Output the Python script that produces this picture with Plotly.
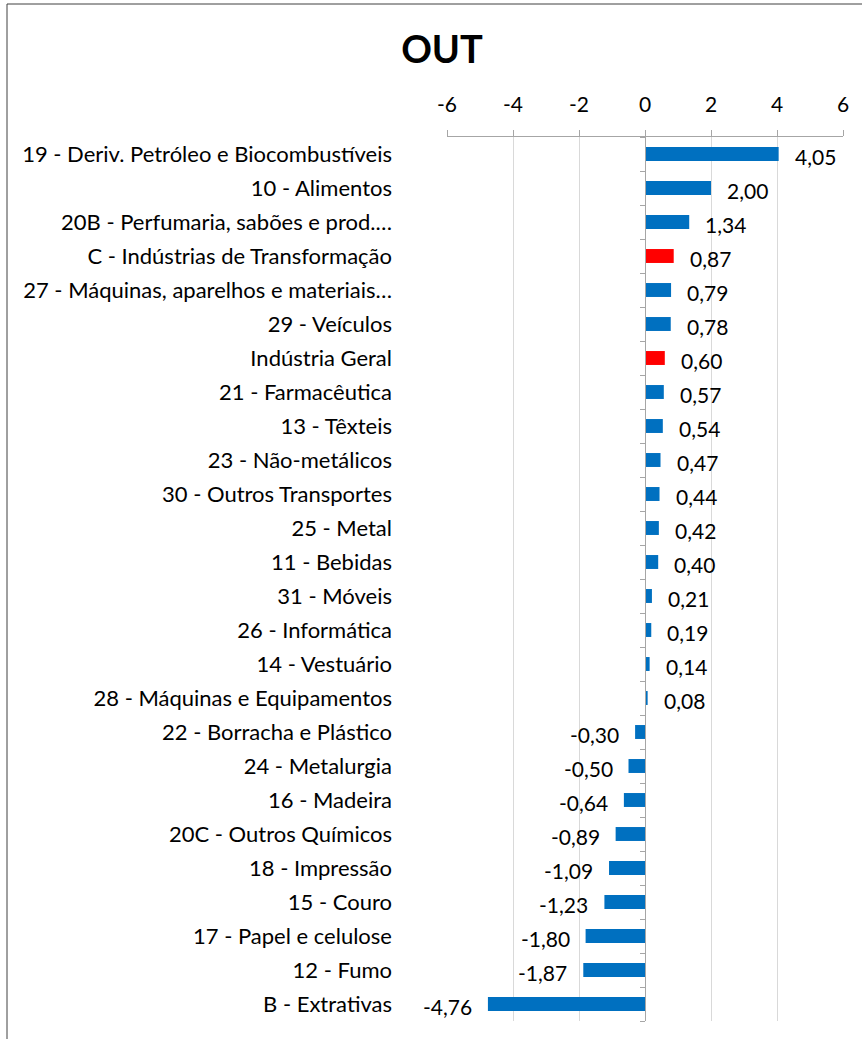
import plotly.graph_objects as go

categories = [
    "19 - Deriv. Petróleo e Biocombustíveis",
    "10 - Alimentos",
    "20B - Perfumaria, sabões e prod.…",
    "C - Indústrias de Transformação",
    "27 - Máquinas, aparelhos e materiais…",
    "29 - Veículos",
    "Indústria Geral",
    "21 - Farmacêutica",
    "13 - Têxteis",
    "23 - Não-metálicos",
    "30 - Outros Transportes",
    "25 - Metal",
    "11 - Bebidas",
    "31 - Móveis",
    "26 - Informática",
    "14 - Vestuário",
    "28 - Máquinas e Equipamentos",
    "22 - Borracha e Plástico",
    "24 - Metalurgia",
    "16 - Madeira",
    "20C - Outros Químicos",
    "18 - Impressão",
    "15 - Couro",
    "17 - Papel e celulose",
    "12 - Fumo",
    "B - Extrativas",
]
values = [4.05, 2.00, 1.34, 0.87, 0.79, 0.78, 0.60, 0.57, 0.54, 0.47, 0.44, 0.42,
          0.40, 0.21, 0.19, 0.14, 0.08, -0.30, -0.50, -0.64, -0.89, -1.09, -1.23,
          -1.80, -1.87, -4.76]
highlight = ["C - Indústrias de Transformação", "Indústria Geral"]
x_ticks = [-6, -4, -2, 0, 2, 4, 6]

BLUE = "#0070C0"
RED = "#FF0000"
FONT = "Lato"

colors = [RED if c in highlight else BLUE for c in categories]
n = len(categories)

fig = go.Figure()
fig.add_trace(go.Bar(
    x=values, y=categories, orientation="h",
    marker=dict(color=colors, line=dict(width=0)),
    hoverinfo="x+y",
))
# helper invisible trace for the category boundary axis at x=0
fig.add_trace(go.Scatter(x=[0], y=[0], yaxis="y2", mode="markers",
                         marker=dict(opacity=0), hoverinfo="skip", showlegend=False))

def fmt(v):
    return f"{v:.2f}".replace(".", ",")

for c, v in zip(categories, values):
    fig.add_annotation(
        x=v, y=c, text=fmt(v), showarrow=False,
        xanchor="left" if v >= 0 else "right",
        xshift=14 if v >= 0 else -14, yshift=-2,
        font=dict(family=FONT, size=21, color="#000000"),
    )

L, R, T, B = 447, 19, 137, 18
W, H = 862, 1039
pw = W - L - R
ph = H - T - B

fig.update_layout(
    width=W, height=H,
    margin=dict(l=L, r=R, t=T, b=B),
    plot_bgcolor="white", paper_bgcolor="white",
    showlegend=False,
    bargap=0.59,
    title=dict(text="<b>OUT</b>", x=442 / W, xanchor="center",
               y=1 - 50 / H, yanchor="middle",
               font=dict(family=FONT, size=38, color="#000000")),
    xaxis=dict(
        side="top", range=[-6, 6], tickvals=x_ticks,
        ticktext=[str(t) for t in x_ticks],
        showgrid=True, gridcolor="#D9D9D9", gridwidth=1,
        zeroline=False,
        showline=True, linecolor="#A6A6A6", linewidth=1,
        ticks="outside", ticklen=6, tickcolor="#A6A6A6",
        ticklabelstandoff=10,
        tickfont=dict(family=FONT, size=21, color="#000000"),
        fixedrange=True,
    ),
    yaxis=dict(
        categoryorder="array", categoryarray=categories,
        autorange="reversed",
        showgrid=False, zeroline=False, showline=False, ticks="",
        ticklabelstandoff=54,
        tickfont=dict(family=FONT, size=22, color="#000000"),
    ),
    yaxis2=dict(
        overlaying="y", anchor="free", position=0.5, side="left",
        range=[n - 0.5, -0.5], tickvals=[i + 0.5 for i in range(-1, n)],
        showticklabels=False, showgrid=False, zeroline=False,
        showline=True, linecolor="#A6A6A6", linewidth=1,
        ticks="outside", ticklen=5, tickcolor="#A6A6A6",
    ),
)

# outer chart border
fig.add_shape(type="rect", xref="paper", yref="paper",
              x0=(7 - L) / pw, x1=(W + 20 - L) / pw,
              y0=-(B + 20) / ph, y1=1 + (T - 4) / ph,
              line=dict(color="#404040", width=1), fillcolor="rgba(0,0,0,0)",
              layer="above")

fig.write_html(
    "out.html",
    config={"displayModeBar": False},
    post_script="document.body.style.margin='0';document.body.style.overflow='hidden';",
)
